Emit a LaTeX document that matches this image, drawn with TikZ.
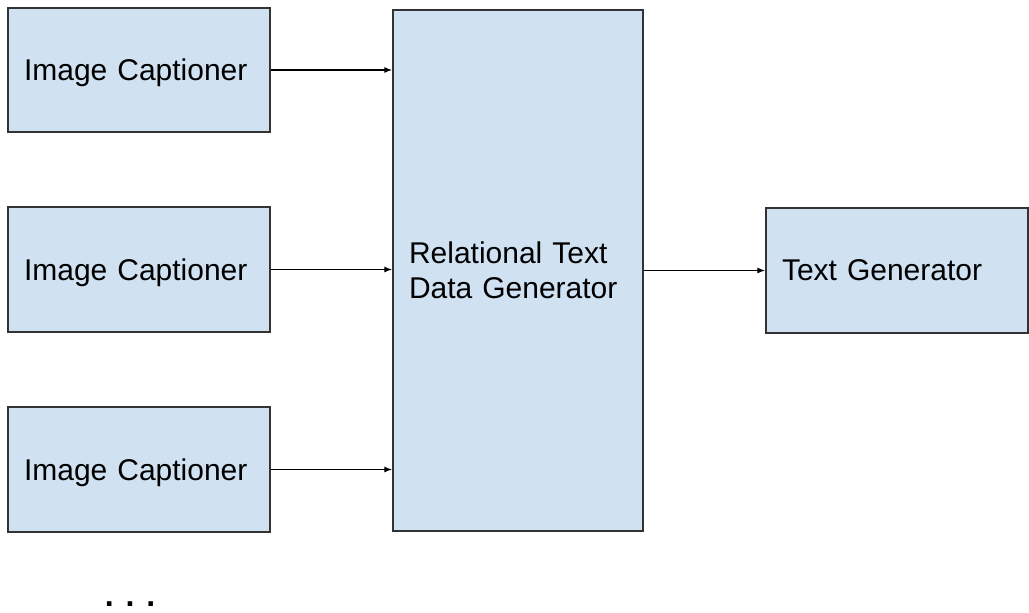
\documentclass[tikz,border=0pt]{standalone}
\usepackage{fontspec}
\setmainfont{Liberation Sans}
\usepackage{tikz}
\usetikzlibrary{arrows.meta}

\begin{document}
\begin{tikzpicture}[x=1pt,y=-1pt]
			\tikzstyle{block}=[draw=black!80, line width=1.4pt, fill={rgb,255:red,208;green,225;blue,242}, inner xsep=16pt, inner ysep=0pt, align=left, font=\fontsize{30}{35}\selectfont]
			\tikzstyle{flow}=[draw=black, line width=1.2pt, -{Latex[length=8pt,width=6pt]}]
			\useasboundingbox (0,0) rectangle (1029,613);
			\node [block, minimum width=262pt, minimum height=124pt, text width=230pt, text depth=0pt] (cap1) at (139,70) {Image Captioner};
			\node [block, minimum width=262pt, minimum height=125pt, text width=230pt, text depth=0pt] (cap2) at (139,269.5) {Image Captioner};
			\node [block, minimum width=262pt, minimum height=125pt, text width=230pt, text depth=0pt] (cap3) at (139,469.5) {Image Captioner};
			\node [block, minimum width=250pt, minimum height=521pt, text width=218pt] (rel) at (518,270.5) {Relational Text\\Data Generator};
			\node [block, minimum width=262pt, minimum height=125pt, text width=230pt, text depth=0pt] (gen) at (897,270.5) {Text Generator};
			\node [anchor=base, inner sep=0pt, text depth=0pt, font=\fontsize{32}{36}\selectfont\bfseries] (more) at (130,606) {. . .};
			\draw [flow] (cap1.east) -- (cap1.east -| rel.west);
			\draw [flow] (cap2.east) -- (cap2.east -| rel.west);
			\draw [flow] (cap3.east) -- (cap3.east -| rel.west);
			\draw [flow] (rel.east |- gen.west) -- (gen.west);
\end{tikzpicture}
\end{document}
